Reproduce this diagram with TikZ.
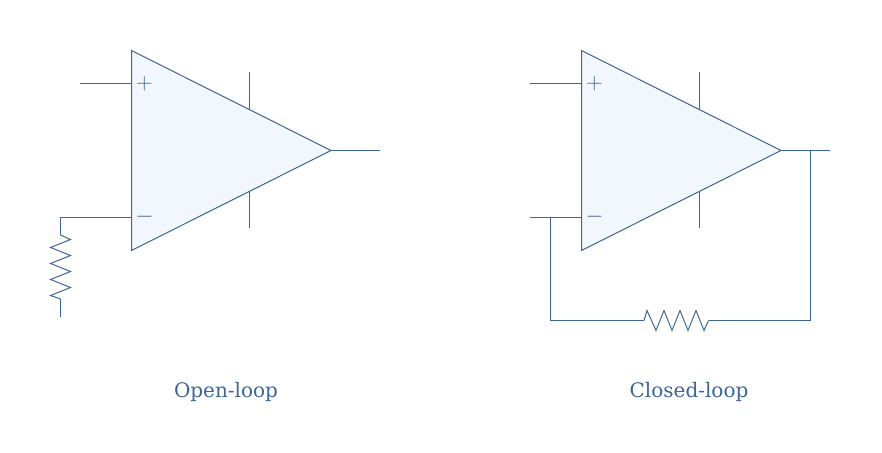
\documentclass[tikz,border=0pt]{standalone}
\usepackage{fontspec}
\setmainfont{DejaVu Serif}
\definecolor{wire}{HTML}{3B6696}
\definecolor{body}{HTML}{F2F7FE}
\tikzstyle{point} = [coordinate]
\tikzstyle{path} = [draw=wire, line width=0.75pt, line join=miter]
\tikzstyle{opamp} = [path, fill=body]
\tikzstyle{sign} = [text=wire, inner sep=0pt, font=\fontsize{17.5pt}{18pt}\selectfont]
\tikzstyle{title} = [text=wire, inner sep=0pt, font=\fontsize{15pt}{18pt}\selectfont]

\begin{document}
\begin{tikzpicture}[x=0.75pt, y=-0.75pt]
    \useasboundingbox (0,0) rectangle (882,453);

    % Open-loop.
    \node (a top) [point] at (131.5,50.5) {};
    \node (a bot) [point] at (131.5,250.5) {};
    \node (a tip) [point] at (331,150.5) {};
    \node (a plus) [point] at (131.5,84) {};
    \node (a minus) [point] at (131.5,217) {};
    \node (a in) [point] at (80,84) {};
    \node (a out) [point] at (380,150.5) {};
    \node (a vcc) [point] at (249.5,72.5) {};
    \node (a vcc e) [point] at (249.5,110) {};
    \node (a vee) [point] at (249.5,228) {};
    \node (a vee e) [point] at (249.5,191) {};
    \node (a bend) [point] at (60.5,217) {};
    \node (a r1) [point] at (60.5,235) {};
    \node (a r2) [point] at (60.5,299) {};
    \node (a gnd) [point] at (60.5,317) {};
    \node (a title) [title] at (226,392) {Open-loop};

    \draw [opamp] (a top) -- (a tip) -- (a bot) -- cycle;
    \node (a sp) [sign] at (144.5,84) {$+$};
    \node (a sm) [sign] at (144.5,217) {$-$};
    \draw [path] (a in) -- (a plus);
    \draw [path] (a tip) -- (a out);
    \draw [path] (a vcc) -- (a vcc e);
    \draw [path] (a vee) -- (a vee e);
    \draw [path] (a minus) -- (a bend) -- (a r1);
    \draw [path] (a r1) -- (70.5,239.5) -- (50.5,247.5) -- (70.5,255.5) -- (50.5,263.5)
        -- (70.5,271.5) -- (50.5,279.5) -- (70.5,287.5) -- (50.5,295.5) -- (a r2);
    \draw [path] (a r2) -- (a gnd);

    % Closed-loop.
    \node (b top) [point] at (581.5,50.5) {};
    \node (b bot) [point] at (581.5,250.5) {};
    \node (b tip) [point] at (781,150.5) {};
    \node (b plus) [point] at (581.5,84) {};
    \node (b minus) [point] at (581.5,217) {};
    \node (b in) [point] at (530,84) {};
    \node (b in2) [point] at (530,217) {};
    \node (b out) [point] at (830,150.5) {};
    \node (b vcc) [point] at (699.5,72.5) {};
    \node (b vcc e) [point] at (699.5,110) {};
    \node (b vee) [point] at (699.5,228) {};
    \node (b vee e) [point] at (699.5,191) {};
    \node (b tap) [point] at (550.5,217) {};
    \node (b low) [point] at (550.5,320.5) {};
    \node (b r1) [point] at (644,320.5) {};
    \node (b r2) [point] at (708.5,320.5) {};
    \node (b right) [point] at (810.5,320.5) {};
    \node (b fork) [point] at (810.5,150.5) {};
    \node (b title) [title] at (689,392) {Closed-loop};

    \draw [opamp] (b top) -- (b tip) -- (b bot) -- cycle;
    \node (b sp) [sign] at (594.5,84) {$+$};
    \node (b sm) [sign] at (594.5,217) {$-$};
    \draw [path] (b in) -- (b plus);
    \draw [path] (b in2) -- (b minus);
    \draw [path] (b tip) -- (b out);
    \draw [path] (b vcc) -- (b vcc e);
    \draw [path] (b vee) -- (b vee e);
    \draw [path] (b tap) -- (b low) -- (b r1);
    \draw [path] (b r1) -- (647,310.5) -- (656,330.5) -- (664,310.5) -- (672,330.5)
        -- (680,310.5) -- (688,330.5) -- (696,310.5) -- (704,330.5) -- (b r2);
    \draw [path] (b r2) -- (b right) -- (b fork);
\end{tikzpicture}
\end{document}
